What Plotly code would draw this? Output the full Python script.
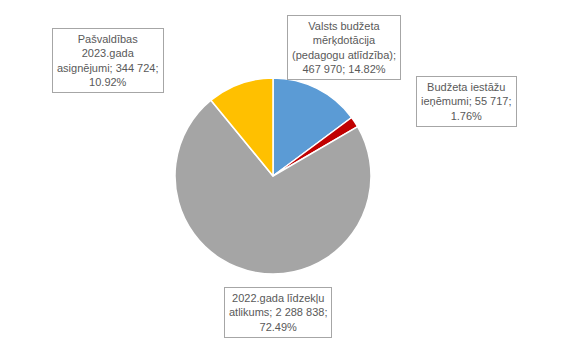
import plotly.graph_objects as go

labels = ["Valsts budžeta mērķdotācija (pedagogu atlīdzība)", "Budžeta iestāžu ieņēmumi",
          "2022.gada līdzekļu atlikums", "Pašvaldības 2023.gada asignējumi"]
values = [467970, 55717, 2288838, 344724]
percents = ["14.82%", "1.76%", "72.49%", "10.92%"]
label_texts = [
    "Valsts budžeta<br>mērķdotācija<br>(pedagogu atlīdzība);<br>467 970; 14.82%",
    "Budžeta iestāžu<br>ieņēmumi; 55 717;<br>1.76%",
    "2022.gada līdzekļu<br>atlikums; 2 288 838;<br>72.49%",
    "Pašvaldības<br>2023.gada<br>asignējumi; 344 724;<br>10.92%",
]
colors = ["#5B9BD5", "#C00000", "#A5A5A5", "#FFC000"]

W, H = 576, 356
OFF = 8  # page body margin
cx, cy, r = 273 - OFF, 176 - OFF, 98

fig = go.Figure(go.Pie(
    labels=labels, values=values, sort=False, direction="clockwise", rotation=0,
    marker=dict(colors=colors, line=dict(color="white", width=1.5)),
    textinfo="none", hoverinfo="label+value+percent", showlegend=False,
    domain=dict(x=[(cx - r) / W, (cx + r) / W], y=[(H - cy - r) / H, (H - cy + r) / H]),
))

# label box centres (pixels)
pos = [(343.5, 47.5), (466, 102), (278, 312), (107.5, 60)]
for t, (x, y) in zip(label_texts, pos):
    fig.add_annotation(
        x=(x - OFF) / W, y=1 - (y - OFF) / H, xref="paper", yref="paper", text=t, showarrow=False,
        xanchor="center", yanchor="middle", align="center",
        font=dict(family="Liberation Sans, Arial", size=11, color="#595959"),
        bgcolor="white", bordercolor="#A6A6A6", borderwidth=1, borderpad=4,
    )

fig.update_layout(width=W, height=H, margin=dict(l=0, r=0, t=0, b=0),
                  paper_bgcolor="white", plot_bgcolor="white")
fig.write_html("out.html")
